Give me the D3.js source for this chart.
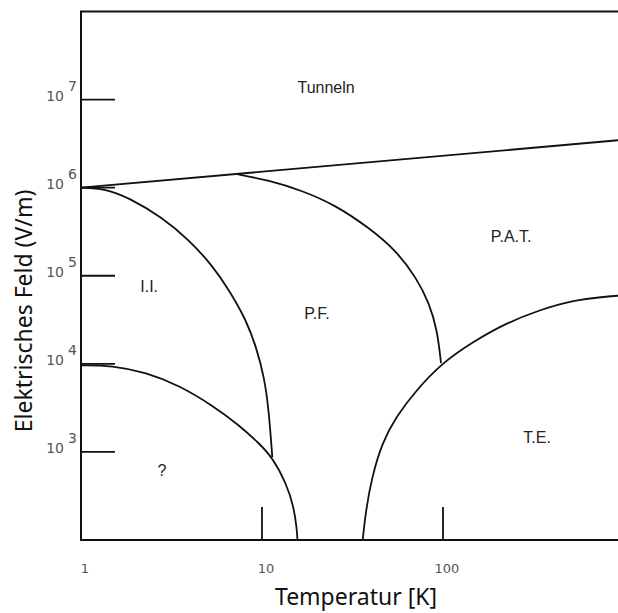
<!DOCTYPE html>
<html>
<head>
<meta charset="utf-8">
<script src="https://cdn.jsdelivr.net/npm/d3@7"></script>
<style>
  body { margin: 0; background: #fff; }
  svg { display: block; }
</style>
</head>
<body>
<svg id="chart" width="618" height="613"></svg>
<script>
// boundaries, as [T in K, E in V/m]
const tunnelLine = [[1, 1.0e6], [1000, 3.5e6]];
const iiPfLine = [[1, 1.0e6], [1.34, 9.8e5], [1.84, 7.7e5], [2.8, 4.6e5], [3.95, 2.55e5],
    [5.3, 1.32e5], [6.6, 6.8e4], [8.2, 3.1e4], [9.3, 1.54e4], [10.3, 7.0e3], [10.9, 3.0e3], [11.4, 870]];
const unknownLine = [[1, 9.6e3], [1.48, 9.6e3], [2.29, 8.0e3], [3.48, 5.7e3], [5.3, 3.4e3],
    [7.5, 2.0e3], [9.6, 1.26e3], [11.4, 870], [13.6, 443], [15.0, 237], [15.6, 130], [15.7, 100]];
const pfPatLine = [[7.2, 1.43e6], [10.9, 1.21e6], [16.6, 9.3e5], [25.6, 6.3e5], [39, 3.5e5],
    [55, 1.94e5], [71, 9.6e4], [84, 4.9e4], [93, 2.4e4], [97.5, 1.02e4]];
const teLine = [[36, 100], [37.5, 219], [40.5, 518], [46, 1.26e3], [55, 2.5e3], [71, 5.0e3],
    [98.7, 1.02e4], [145, 1.76e4], [223, 2.9e4], [339, 4.06e4], [516, 5.26e4], [796, 5.8e4], [1000, 6.0e4]];

const xTicks = [1, 10, 100];
const xTickLabels = ["1", "10", "100"];
const yTicks = [1e3, 1e4, 1e5, 1e6, 1e7];
const yExponents = ["3", "4", "5", "6", "7"];

const regionNames = ["Tunneln", "P.A.T.", "I.I.", "P.F.", "T.E.", "?"];
const regionT = [22.6, 238, 2.38, 20.1, 331, 2.8];
const regionE = [1.39e7, 2.83e5, 7.66e4, 3.78e4, 1.48e3, 624];

const svg = d3.select("#chart"),
    width = +svg.attr("width"),
    height = +svg.attr("height");

const x = d3.scaleLog().domain([1, 1000]).range([81, 81 + 3 * 181]);
const y = d3.scaleLog().domain([100, 1e8]).range([540, 11.5]);

const line = d3.line()
    .x(d => x(d[0]))
    .y(d => y(d[1]))
    .curve(d3.curveBasis);

// frame: left axis, top and bottom lines (right side open)
svg.append("path")
    .attr("d", `M${width},${y.range()[1]}H${x(1)}V${y.range()[0]}H${width}`)
    .attr("fill", "none")
    .attr("stroke", "#111")
    .attr("stroke-width", 2);

// inward ticks
svg.append("g")
    .selectAll("line")
    .data(yTicks)
    .enter()
    .append("line")
    .attr("x1", x(1))
    .attr("x2", x(1) + 34)
    .attr("y1", d => y(d))
    .attr("y2", d => y(d))
    .attr("stroke", "#111")
    .attr("stroke-width", 1.8);

svg.append("g")
    .selectAll("line")
    .data(xTicks.slice(1))
    .enter()
    .append("line")
    .attr("x1", d => x(d))
    .attr("x2", d => x(d))
    .attr("y1", y(100))
    .attr("y2", y(100) - 33)
    .attr("stroke", "#111")
    .attr("stroke-width", 1.8);

// tick labels
const yLabel = svg.append("g")
    .attr("font-family", "DejaVu Sans, sans-serif")
    .attr("font-size", 14)
    .attr("fill", "#555")
    .selectAll("g")
    .data(yTicks)
    .enter()
    .append("g");
yLabel.append("text")
    .attr("x", 64)
    .attr("y", d => y(d) + 1)
    .attr("text-anchor", "end")
    .text("10");
yLabel.append("text")
    .attr("x", 68)
    .attr("y", d => y(d) - 9)
    .text((d, i) => yExponents[i]);

svg.append("g")
    .attr("font-family", "DejaVu Sans, sans-serif")
    .attr("font-size", 13)
    .attr("fill", "#555")
    .attr("text-anchor", "middle")
    .selectAll("text")
    .data(xTicks)
    .enter()
    .append("text")
    .attr("x", d => x(d) + 4)
    .attr("y", 573)
    .text((d, i) => xTickLabels[i]);

// boundaries
svg.append("g")
    .selectAll("path")
    .data([tunnelLine, iiPfLine, unknownLine, pfPatLine, teLine])
    .enter()
    .append("path")
    .attr("d", line)
    .attr("fill", "none")
    .attr("stroke", "#111")
    .attr("stroke-width", 1.8);

// region names
svg.append("g")
    .attr("font-family", "Liberation Sans, Arial, sans-serif")
    .attr("font-size", 16)
    .attr("fill", "#222")
    .attr("text-anchor", "middle")
    .selectAll("text")
    .data(regionNames)
    .enter()
    .append("text")
    .attr("x", (d, i) => x(regionT[i]))
    .attr("y", (d, i) => y(regionE[i]) + 6)
    .text(d => d);

// axis titles
svg.append("text")
    .attr("x", 356)
    .attr("y", 605)
    .attr("text-anchor", "middle")
    .attr("font-family", "Noto Sans, sans-serif")
    .attr("font-size", 23)
    .attr("fill", "#111")
    .text("Temperatur [K]");

svg.append("text")
    .attr("transform", "translate(32,311) rotate(-90)")
    .attr("text-anchor", "middle")
    .attr("font-family", "Noto Sans, sans-serif")
    .attr("font-size", 23)
    .attr("fill", "#111")
    .text("Elektrisches Feld (V/m)");
</script>
</body>
</html>
